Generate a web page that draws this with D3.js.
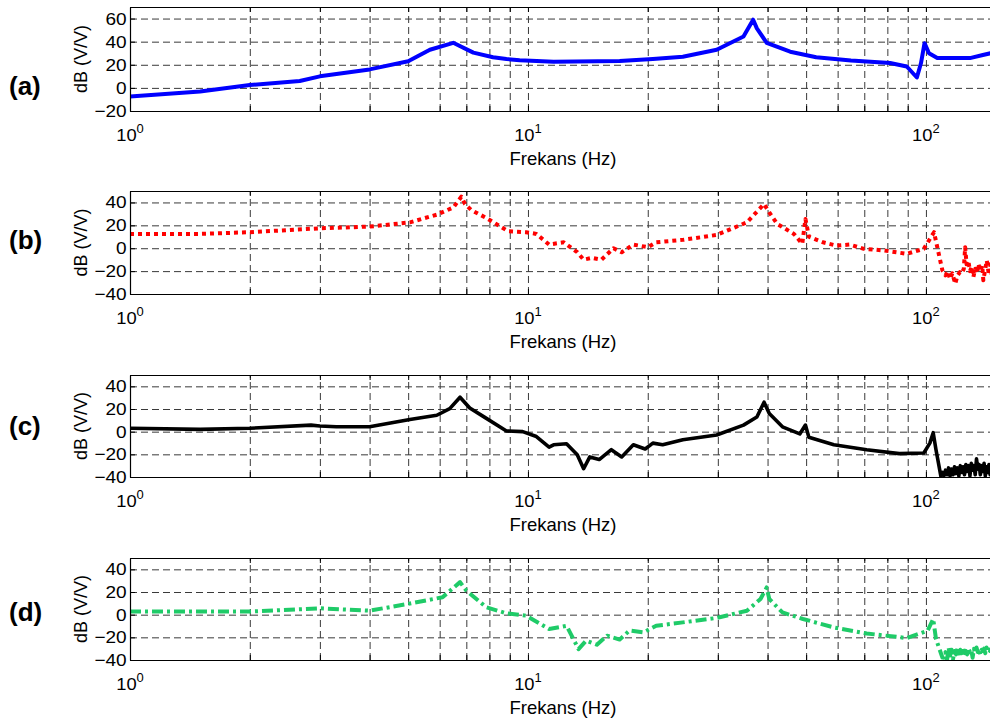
<!DOCTYPE html>
<html>
<head>
<meta charset="utf-8">
<script src="https://cdn.jsdelivr.net/npm/d3@7"></script>
<style>
body { margin: 0; background: #fff; }
svg { display: block; font-family: "Liberation Sans", Arial, sans-serif; }
</style>
</head>
<body>
<div id="chart"></div>
<script>
/* Frequency response, 4 stacked panels (a)-(d), log x axis */

// panel (a) - blue solid
const freqA = [1, 1.5, 2, 2.67, 3, 4, 5, 5.67, 6.49, 7.29, 8.17, 8.83, 9.53, 11.6, 17, 20.6, 24.5, 29.8, 34.8, 36.8, 37.6, 39.8, 45.6, 53, 64.8, 81.3, 89.5, 94.9, 97.2, 99.2, 101.8, 106.8, 129, 139, 150];
const dbA = [-7.5, -3.2, 2.5, 6, 10, 16, 23, 33, 39, 30.5, 26.5, 25, 24, 22.7, 23.3, 25, 27, 33, 44.5, 59, 51.5, 39, 31.3, 26.5, 23.7, 21.5, 18.5, 9, 21.5, 38.7, 30, 25.8, 25.8, 28.5, 31];

// panel (b) - red dotted
const freqB = [1, 1.5, 2, 3, 4, 5.05, 5.9, 6.5, 6.8, 6.95, 7.2, 7.86, 8.92, 9.9, 10.5, 11.3, 12.3, 13.3, 13.8, 14.5, 15.3, 16.4, 17.2, 18.4, 20, 21, 24.5, 29.8, 35.5, 39.2, 40.4, 42.3, 46.6, 48.9, 49.8, 50.8, 55.1, 59.5, 64.3, 69.8, 78.7, 89.5, 98.8, 104.8, 106.8,
    110, 112, 113.5, 115, 116.5, 118.5, 120, 121.7, 123, 124.5, 125.5, 126.5, 127.8, 129, 130.5, 131.6, 133, 134.5, 135.5, 137, 138.5, 139.4, 141, 142.2, 143.5, 145, 146.5, 148, 150];
const dbB = [12.5, 12.5, 14, 17.4, 18.9, 22.6, 29.3, 35.7, 45, 38.6, 33.4, 26.4, 14.8, 14, 12.5, 3.2, 5.2, -3.5, -10, -8.4, -10, 0, -3.5, 3.2, 0.9, 5.2, 7.3, 11.6, 22.6, 38.6, 31.3, 21.2, 12.5, 3.8, 25.6, 10.2, 5.2, 2.3, 3.2, -0.5, -2, -4.9, -0.5, 14, 0.9,
    -19.4, -23.7, -20, -27, -22, -31, -24, -20.9, -22, -18, 0.9, -14, -10.7, -20, -16, -25.2, -18, -22, -13.6, -20, -15, -28, -18, -10.7, -20, -14, -24, -16, -13];

// panel (c) - black solid
const freqC = [1, 1.5, 2, 2.85, 3, 3.3, 4, 5.05, 5.9, 6.36, 6.75, 7.14, 7.7, 8.83, 9.7, 10.5, 11.3, 11.6, 12.5, 13.3, 13.8, 14.3, 15.1, 16.2, 17.2, 18.4, 19.7, 20.6, 21.8, 24.5, 29.8, 34.8, 37.6, 39.2, 40.4, 43.6, 48.2, 49.8, 50.8, 58.7, 71, 85.7, 98.8, 102.3, 104.3, 106, 109,
    110, 111, 112, 113, 114, 115, 116, 117, 118, 119, 120, 121, 122, 123, 124, 125, 126, 127, 128, 129, 130, 131, 132, 133, 134, 135, 136, 137, 138, 139, 140, 141, 142, 143, 144, 145, 146, 147, 148, 149, 150];
const dbC = [3, 2, 3, 5.8, 5, 4.3, 4.3, 10.8, 14.5, 20.3, 30.4, 20.9, 13.7, 0.6, 0, -4.3, -13.6, -11.6, -10.7, -20.3, -32.7, -22.3, -24.6, -15.9, -22.3, -11.6, -15.3, -10.1, -11.6, -7.2, -2.9, 5.8, 13, 26, 16, 4.3, -2, 5.8, -4.9, -11.6, -15.9, -19.4, -18.8, -10.1, -0.9, -15.9, -39,
    -36, -39, -34, -38, -32, -39, -33, -38, -31, -37, -32, -39, -30, -36, -31, -38, -29, -35, -30, -39, -28, -34, -30, -38, -24, -33, -29, -38, -30, -35, -28, -39, -31, -36, -29, -38, -30, -35, -31, -37, -30];

// panel (d) - green dash-dot
const freqD = [1, 2, 3, 4, 5, 6.1, 6.75, 7, 7.86, 8.83, 9.9, 11.3, 12.5, 13.4, 14, 14.9, 15.8, 17, 18, 19.5, 21, 24.5, 29.8, 35.5, 38.4, 39.8, 40.4, 43.6, 49.1, 58.7, 71, 89.5, 101, 104.3, 106,
    110, 111, 112, 113, 114, 115, 116, 117, 118, 119, 120, 121, 122, 123, 124, 125, 126, 127, 128, 129, 130, 131, 132, 133, 134, 135, 136, 137, 138, 139, 140, 141, 142, 143, 144, 145, 146, 147, 148, 149, 150];
const dbD = [2.7, 2.7, 5.6, 3.5, 9.5, 15.4, 28.7, 21.3, 6.5, 1.2, -0.9, -12.7, -9.8, -30.4, -23, -26.5, -18.6, -22, -14, -15.6, -9.8, -6.8, -2.9, 3.5, 13.8, 24, 13.8, 2, -3.8, -11.3, -16.6, -20.6, -14.2, -3.8, -21.5,
    -37.8, -38, -33, -40, -29, -36, -31, -39, -32, -35, -30, -37, -31, -34, -29, -36, -32, -35, -30, -33, -31, -38, -30, -34, -29, -33, -30, -35, -31, -32, -30, -34, -29, -33, -31, -32, -30, -33, -31, -32, -30];

// axes stuff
const xGridTicks = [1, 2, 3, 4, 5, 6, 7, 8, 9, 10, 20, 30, 40, 50, 60, 70, 80, 90, 100];
const xDecades = [1, 10, 100];
const xExponents = ['0', '1', '2'];
const yTicksA = [-20, 0, 20, 40, 60];
const yTicksB = [-40, -20, 0, 20, 40];
const panelLabels = ['(a)', '(b)', '(c)', '(d)'];
const xLabel = 'Frekans (Hz)';
const yLabel = 'dB (V/V)';

const width = 990, height = 720;
const left = 130, right = 996;

// one entry per subplot
const panels = [
    {freq: freqA, db: dbA, domain: [-20, 70], ticks: yTicksA, top: 7, bottom: 111, labelY: 95,
     color: '#0000ff', sw: 4, dash: null},
    {freq: freqB, db: dbB, domain: [-40, 50], ticks: yTicksB, top: 191, bottom: 294, labelY: 249,
     color: '#ff0000', sw: 4, dash: '4,4'},
    {freq: freqC, db: dbC, domain: [-40, 50], ticks: yTicksB, top: 375, bottom: 477, labelY: 435,
     color: '#000000', sw: 3.6, dash: null},
    {freq: freqD, db: dbD, domain: [-40, 50], ticks: yTicksB, top: 558, bottom: 660, labelY: 621,
     color: '#1fcb68', sw: 4, dash: '11,4,3,4'}
];

let svg = d3.select('#chart')
    .append('svg')
    .attr('width', width)
    .attr('height', height);

let x = d3.scaleLog()
    .domain([1, 150])
    .range([left, right]);

panels.forEach((p, i) => {
    let y = d3.scaleLinear()
        .domain(p.domain)
        .range([p.bottom, p.top]);
    const h = p.bottom - p.top;

    let g = svg.append('g');

    // clip so thick lines stay inside the box
    g.append('clipPath').attr('id', 'clip' + i)
        .append('rect')
        .attr('x', left).attr('y', p.top)
        .attr('width', right - left).attr('height', h);

    // dashed grid
    g.append('g')
        .attr('transform', `translate(0,${p.bottom})`)
        .call(d3.axisBottom(x).tickValues(xGridTicks).tickSize(-h).tickFormat(''))
        .call(a => a.select('.domain').remove())
        .selectAll('line')
        .attr('stroke', '#3a3a3a')
        .attr('stroke-dasharray', '7,4');

    g.append('g')
        .attr('transform', `translate(${left},0)`)
        .call(d3.axisLeft(y).tickValues(p.ticks.slice(1)).tickSize(-(right - left)).tickFormat(''))
        .call(a => a.select('.domain').remove())
        .selectAll('line')
        .attr('stroke', '#3a3a3a')
        .attr('stroke-dasharray', '7,4');

    // the curve
    let line = d3.line()
        .x(d => x(d[0]))
        .y(d => y(d[1]));

    g.append('path')
        .datum(d3.zip(p.freq, p.db))
        .attr('clip-path', `url(#clip${i})`)
        .attr('fill', 'none')
        .attr('stroke', p.color)
        .attr('stroke-width', p.sw)
        .attr('stroke-linejoin', 'round')
        .attr('stroke-dasharray', p.dash)
        .attr('d', line);

    // box + inside ticks
    g.append('g')
        .attr('transform', `translate(0,${p.bottom})`)
        .call(d3.axisBottom(x).tickValues(xGridTicks).tickSizeInner(-5).tickSizeOuter(0).tickFormat(''));

    g.append('g')
        .attr('transform', `translate(0,${p.top})`)
        .call(d3.axisTop(x).tickValues(xGridTicks).tickSizeInner(-5).tickSizeOuter(0).tickFormat(''));

    let yAx = g.append('g')
        .attr('transform', `translate(${left},0)`)
        .call(d3.axisLeft(y).tickValues(p.ticks).tickSizeInner(-5).tickSizeOuter(0).tickPadding(3));
    yAx.selectAll('text')
        .attr('font-size', 17)
        .attr('transform', 'scale(1.12,1)') // figure text looks a bit wide
        .attr('font-family', '"Liberation Sans", Arial, sans-serif')
        .attr('fill', '#000');

    g.selectAll('.domain').attr('stroke', '#000').attr('stroke-width', 1.2);

    // 10^n labels
    let dec = g.selectAll('.dec')
        .data(xDecades)
        .join('text')
        .attr('class', 'dec')
        .attr('transform', d => `translate(${x(d)},${p.bottom + 30}) scale(1.08,1)`)
        .attr('text-anchor', 'middle')
        .attr('font-size', 17);
    dec.append('tspan').text('10');
    dec.append('tspan')
        .attr('dy', -8)
        .attr('font-size', 12)
        .text((d, j) => xExponents[j]);

    g.append('text')
        .attr('x', (left + right) / 2)
        .attr('y', p.bottom + 54)
        .attr('text-anchor', 'middle')
        .attr('font-size', 18.5)
        .text(xLabel);

    g.append('text')
        .attr('transform', `translate(87,${(p.top + p.bottom) / 2}) rotate(-90)`)
        .attr('text-anchor', 'middle')
        .attr('font-size', 18)
        .text(yLabel);

    g.append('text')
        .attr('x', 9)
        .attr('y', p.labelY)
        .attr('font-size', 26)
        .attr('font-weight', 'bold')
        .text(panelLabels[i]);
});
</script>
</body>
</html>
